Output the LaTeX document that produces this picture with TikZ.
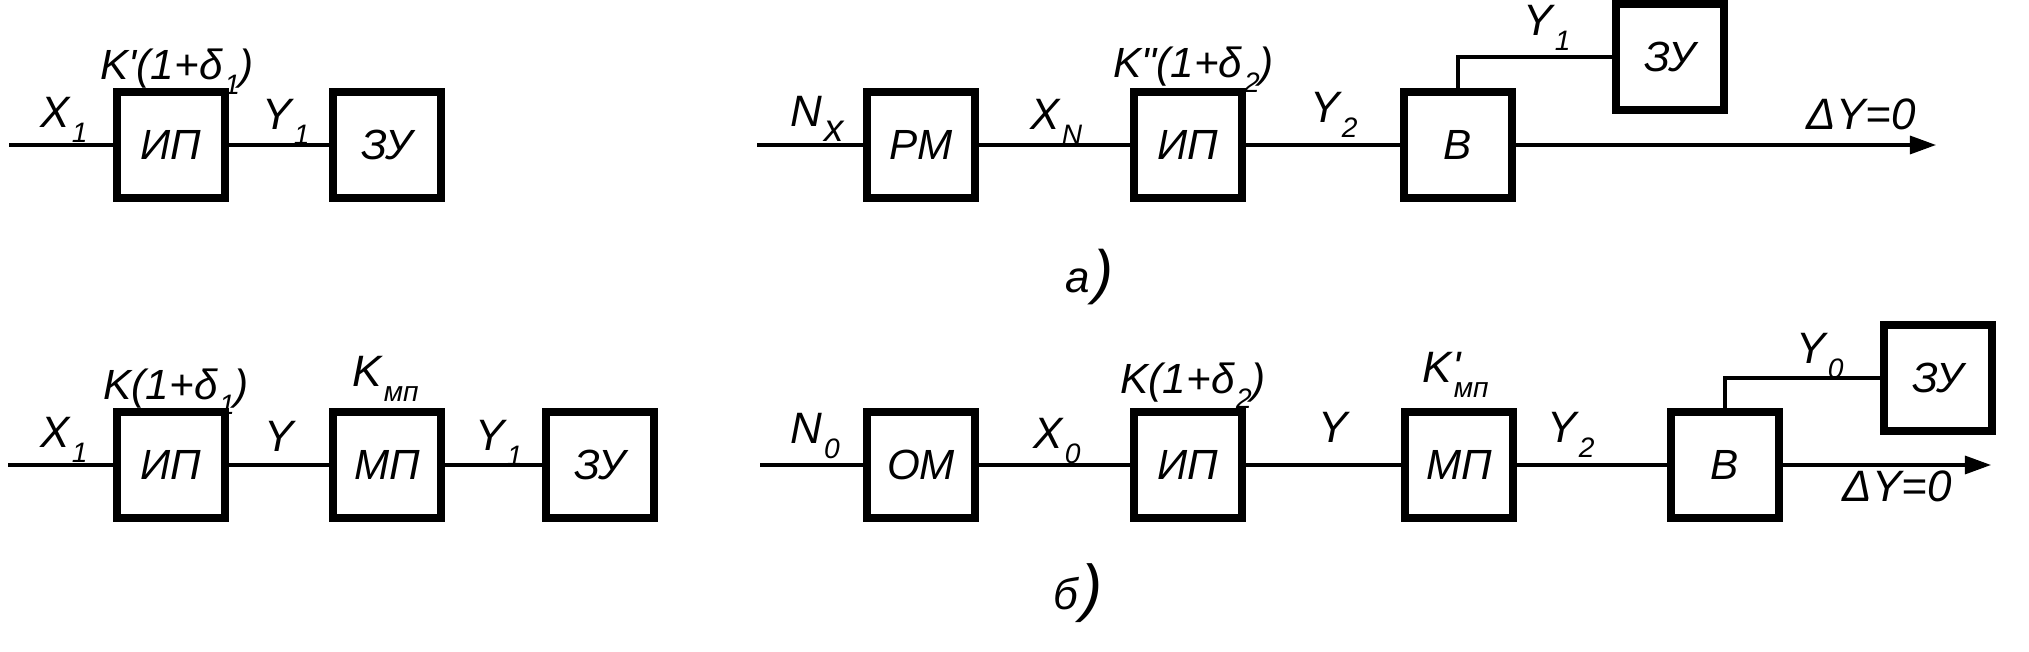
\documentclass[tikz,border=0pt]{standalone}
\usepackage{fontspec}
\setmainfont{Liberation Sans}
\usetikzlibrary{arrows.meta}
\newcommand{\sbx}[2][8]{\kern0.5pt\raisebox{-4.2pt}{\fontsize{#1}{#1}\selectfont #2}}
\newcommand{\bigpar}[1][17]{\kern1pt{\fontsize{#1}{#1}\selectfont )}}
\tikzset{
  blk/.style={draw, line width=2.3pt, minimum width=1.08cm, minimum height=1.06cm, inner sep=0pt, font=\itshape\fontsize{12}{12}\selectfont},
  lbl/.style={anchor=base west, inner sep=0pt, font=\itshape\fontsize{12.5}{12}\selectfont},
  klbl/.style={lbl, font=\itshape\fontsize{12}{12}\selectfont},
  wire/.style={line width=0.9pt},
  tip/.style={-{Triangle[length=0.26cm, width=0.18cm]}},
}
\begin{document}
\begin{tikzpicture}[x=0.01cm, y=-0.01cm]
	\useasboundingbox (0,0) rectangle (2029,652);

	% Esquema a), izquierda
	\coordinate (ina1) at (9,145);
	\node[blk] (ipa1) at (171,145) {ИП};
	\node[blk] (zua1) at (387,145) {ЗУ};
	\draw[wire] (ina1) -- (ipa1) -- (zua1);
	\node[lbl] (xa1) at (40,128) {X\sbx{1}};
	\node[klbl] (ka1) at (100,80) {K\textquotesingle(1+δ\sbx{1})};
	\node[lbl] (ya1) at (262,130) {Y\sbx{1}};

	% Esquema a), derecha
	\coordinate (ina2) at (757,145);
	\node[blk] (rm) at (921,145) {РМ};
	\node[blk] (ipa2) at (1188,145) {ИП};
	\node[blk] (va) at (1458,145) {В};
	\node[blk] (zua2) at (1670,57) {ЗУ};
	\coordinate (outa) at (1936,145);
	\draw[wire] (ina2) -- (rm) -- (ipa2) -- (va);
	\draw[wire] (va.north) |- (zua2.west);
	\draw[wire, tip] (va) -- (outa);
	\node[lbl] (nxa) at (790,127) {N\sbx[11]{x}};
	\node[lbl] (xna) at (1030,130) {X\sbx{N}};
	\node[klbl] (ka2) at (1113,78) {K\textquotedbl(1+δ\sbx{2})};
	\node[lbl] (ya2) at (1310,123) {Y\sbx{2}};
	\node[lbl] (ya3) at (1523,36) {Y\sbx{1}};
	\node[lbl] (dya) at (1806,130) {ΔY=0};
	\node[lbl] (capa) at (1065,293) {a\bigpar};

	% Esquema b), izquierda
	\coordinate (inb1) at (8,465);
	\node[blk] (ipb1) at (171,465) {ИП};
	\node[blk] (mpb1) at (387,465) {МП};
	\node[blk] (zub1) at (600,465) {ЗУ};
	\draw[wire] (inb1) -- (ipb1) -- (mpb1) -- (zub1);
	\node[lbl] (xb1) at (40,448) {X\sbx{1}};
	\node[klbl] (kb1) at (103,400) {K(1+δ\sbx{1})};
	\node[lbl] (yb1) at (264,452) {Y};
	\node[lbl] (kmb1) at (352,387) {K\sbx{мп}};
	\node[lbl] (yb2) at (475,451) {Y\sbx{1}};

	% Esquema b), derecha
	\coordinate (inb2) at (760,465);
	\node[blk] (om) at (921,465) {ОМ};
	\node[blk] (ipb2) at (1188,465) {ИП};
	\node[blk] (mpb2) at (1459,465) {МП};
	\node[blk] (vb) at (1725,465) {В};
	\node[blk] (zub2) at (1938,378) {ЗУ};
	\coordinate (outb) at (1991,465);
	\draw[wire] (inb2) -- (om) -- (ipb2) -- (mpb2) -- (vb);
	\draw[wire] (vb.north) |- (zub2.west);
	\draw[wire, tip] (vb) -- (outb);
	\node[lbl] (n0b) at (790,444) {N\sbx{0}};
	\node[lbl] (x0b) at (1033,449) {X\sbx{0}};
	\node[klbl] (kb2) at (1120,394) {K(1+δ\sbx{2})};
	\node[lbl] (yb3) at (1318,443) {Y};
	\node[lbl] (kmb2) at (1422,383) {K\rlap{\textquotesingle}\sbx{мп}};
	\node[lbl] (yb4) at (1547,443) {Y\sbx{2}};
	\node[lbl] (y0b) at (1796,364) {Y\sbx{0}};
	\node[lbl] (dyb) at (1842,502) {ΔY=0};
	\node[lbl] (capb) at (1053,610) {б\bigpar[18]};
\end{tikzpicture}
\end{document}
